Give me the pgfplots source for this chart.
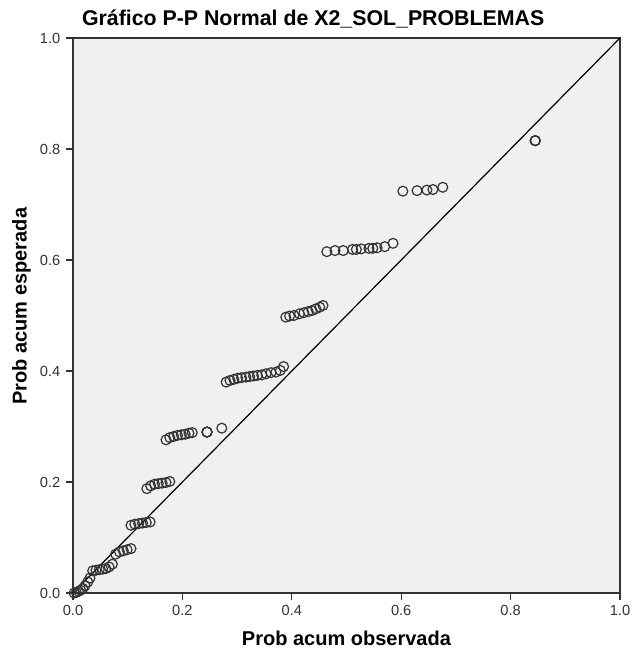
\documentclass[border=0pt]{standalone}
\usepackage{pgfplots}
\pgfplotsset{compat=1.18}
\usepackage{fontspec}
\setmainfont{Liberation Sans}
\definecolor{bgc}{HTML}{F0F0F0}
\definecolor{axc}{HTML}{333333}
\begin{document}
\begin{tikzpicture}[x=1pt,y=1pt]
\begin{axis}[
  at={(0,0)}, anchor=south west,
  scale only axis,
  width=410.25pt, height=416.25pt,
  xmin=0, xmax=1, ymin=0, ymax=1,
  axis background/.style={fill=bgc},
  axis line style={axc, line width=0.8pt},
  xtick={0,0.2,0.4,0.6,0.8,1.0},
  ytick={0,0.2,0.4,0.6,0.8,1.0},
  xtick pos=left, ytick pos=left,
  tick align=outside,
  major tick length=5pt,
  tick style={axc, line width=0.8pt},
  /pgf/number format/assume math mode=true,
  /pgf/number format/.cd, fixed, fixed zerofill, precision=1,
  /pgfplots/.cd,
  ticklabel style={font=\fontsize{11}{12}\selectfont, text=axc},
  xticklabel style={yshift=-1pt},
  yticklabel style={xshift=-1pt},
  title={\textbf{Gráfico P-P Normal de X2\_SOL\_PROBLEMAS}},
  title style={font=\fontsize{16}{18}\selectfont, yshift=-2pt, xshift=-25pt},
  xlabel={\textbf{Prob acum observada}},
  ylabel={\textbf{Prob acum esperada}},
  label style={font=\fontsize{15}{17}\selectfont},
  xlabel style={yshift=-4pt},
  ylabel style={yshift=0pt, xshift=7pt},
  clip=false,
]
\addplot[black, line width=0.9pt, no marks] coordinates {(0,0) (1,1)};
\addplot[only marks, mark=o, mark size=3.7pt, mark options={draw=black!80, line width=0.9pt}] coordinates {
(0.002,0.000) (0.006,0.001) (0.010,0.003) (0.014,0.005) (0.018,0.008) (0.022,0.013) (0.027,0.020) (0.031,0.027)
(0.036,0.040) (0.042,0.041) (0.048,0.042) (0.054,0.043) (0.060,0.044) (0.066,0.047) (0.072,0.052)
(0.078,0.070) (0.085,0.074) (0.092,0.076) (0.099,0.078) (0.106,0.080)
(0.106,0.122) (0.113,0.124) (0.120,0.125) (0.127,0.126) (0.134,0.127) (0.141,0.128)
(0.135,0.188) (0.142,0.193) (0.149,0.196) (0.156,0.197) (0.163,0.198) (0.170,0.199) (0.177,0.201)
(0.170,0.276) (0.177,0.280) (0.184,0.282) (0.191,0.284) (0.198,0.285) (0.205,0.286) (0.212,0.288) (0.218,0.289)
(0.245,0.290) (0.245,0.290) (0.245,0.290) (0.272,0.297)
(0.280,0.380) (0.287,0.383) (0.294,0.385) (0.301,0.387) (0.308,0.388) (0.316,0.389) (0.323,0.390) (0.330,0.391)
(0.337,0.392) (0.345,0.393) (0.353,0.395) (0.362,0.397) (0.371,0.398) (0.379,0.401) (0.385,0.408)
(0.389,0.497) (0.396,0.499) (0.404,0.500) (0.414,0.503) (0.422,0.505) (0.430,0.507) (0.437,0.509) (0.444,0.512) (0.451,0.515) (0.457,0.518)
(0.464,0.615) (0.479,0.617) (0.494,0.617) (0.511,0.619) (0.518,0.619) (0.527,0.620) (0.541,0.621) (0.548,0.621) (0.556,0.622) (0.570,0.624) (0.585,0.630)
(0.603,0.724) (0.629,0.725) (0.647,0.726) (0.658,0.727) (0.676,0.731)
(0.845,0.815) (0.845,0.815) (0.845,0.815)
};
\end{axis}
\path (-54.75pt,-46.5pt) rectangle (417.75pt,444.75pt);
\end{tikzpicture}
\end{document}
